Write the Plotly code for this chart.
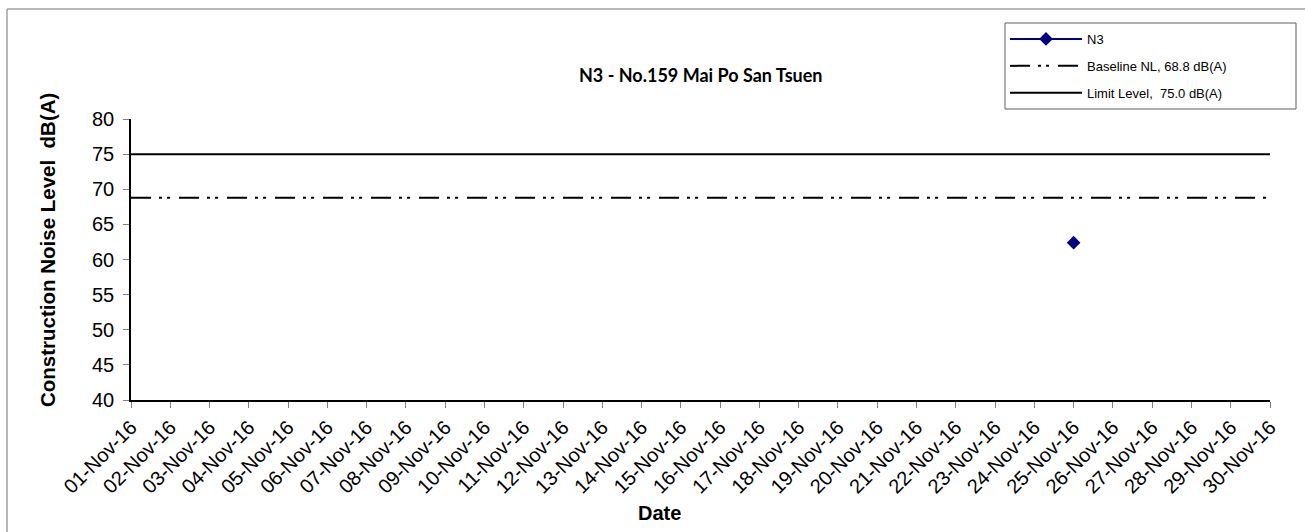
import plotly.graph_objects as go

dates = [f"{d:02d}-Nov-16" for d in range(1, 31)]
n3_values = [None] * 30
n3_values[24] = 62.4
baseline_values = [68.8] * 30
limit_values = [75.0] * 30
y_ticks = [40, 45, 50, 55, 60, 65, 70, 75, 80]

W, H = 1305, 532
L, R, T, B = 131, 35, 119, 132
pw, ph = W - L - R, H - T - B

def px_x(px):
    return (px - L) / pw

def px_y(py):
    return (H - B - py) / ph

fig = go.Figure()
fig.add_trace(go.Scatter(
    x=dates, y=n3_values, mode="lines+markers", name="N3",
    line=dict(color="#000080", width=2),
    marker=dict(symbol="diamond", size=10.5, color="#000080"),
    legendgroup="a"))
fig.add_trace(go.Scatter(
    x=dates, y=baseline_values, mode="lines", name="Baseline NL, 68.8 dB(A)",
    line=dict(color="black", width=2, dash="20px,8px,3px,5px,3px,9px"),
    legendgroup="b"))
fig.add_trace(go.Scatter(
    x=dates, y=limit_values, mode="lines", name="Limit Level,\u00a0 75.0 dB(A)",
    line=dict(color="black", width=2),
    legendgroup="c"))

fig.update_layout(
    width=W, height=H,
    margin=dict(l=L, r=R, t=T, b=B),
    paper_bgcolor="white", plot_bgcolor="white",
    font=dict(family="Liberation Sans, Arial, sans-serif", color="black"),
    showlegend=True,
    legend=dict(
        x=px_x(1005), y=px_y(24), xanchor="left", yanchor="top",
        borderwidth=0, bgcolor="rgba(0,0,0,0)",
        font=dict(size=13, family="Liberation Sans, Arial, sans-serif"),
        traceorder="grouped", tracegroupgap=7, itemwidth=72,
    ),
    xaxis=dict(
        type="category", range=[0, 29],
        showline=True, linecolor="black", linewidth=1.5,
        ticks="outside", ticklen=6, tickcolor="#808080", tickwidth=1,
        tickangle=-45, tickfont=dict(size=20),
        showgrid=False, zeroline=False, mirror=False,
    ),
    yaxis=dict(
        range=[40, 80], tickvals=y_ticks,
        showline=True, linecolor="black", linewidth=1.5,
        ticks="outside", ticklen=6, tickcolor="#808080", tickwidth=1,
        tickfont=dict(size=20), ticklabelstandoff=5,
        showgrid=False, zeroline=False,
    ),
    annotations=[
        dict(text="<b>N3 - No.159 Mai Po San Tsuen</b>", xref="paper", yref="paper",
             x=px_x(700), y=px_y(75), xanchor="center", yanchor="middle",
             showarrow=False, font=dict(size=18, family="Lato, sans-serif")),
        dict(text="<b>Date</b>", xref="paper", yref="paper",
             x=px_x(659), y=px_y(513), xanchor="center", yanchor="middle",
             showarrow=False, font=dict(size=20)),
        dict(text="<b>Construction Noise Level  dB(A)</b>", xref="paper", yref="paper",
             x=px_x(47), y=px_y(250), xanchor="center", yanchor="middle",
             textangle=-90, showarrow=False, font=dict(size=20.5)),
    ],
    shapes=[
        dict(type="line", xref="paper", yref="paper", layer="below",
             x0=px_x(7), x1=px_x(1320), y0=px_y(9), y1=px_y(9),
             line=dict(color="#a0a0a0", width=1.5)),
        dict(type="line", xref="paper", yref="paper", layer="below",
             x0=px_x(7), x1=px_x(7), y0=px_y(9), y1=px_y(545),
             line=dict(color="#a0a0a0", width=1.5)),
        dict(type="rect", xref="paper", yref="paper", layer="below",
             x0=px_x(1005), x1=px_x(1296), y0=px_y(23), y1=px_y(109),
             line=dict(color="#606060", width=1), fillcolor="white"),
    ],
)

fig.write_html("out.html", config={"displayModeBar": False},
               post_script="document.body.style.margin='0';document.body.style.overflow='hidden';")
